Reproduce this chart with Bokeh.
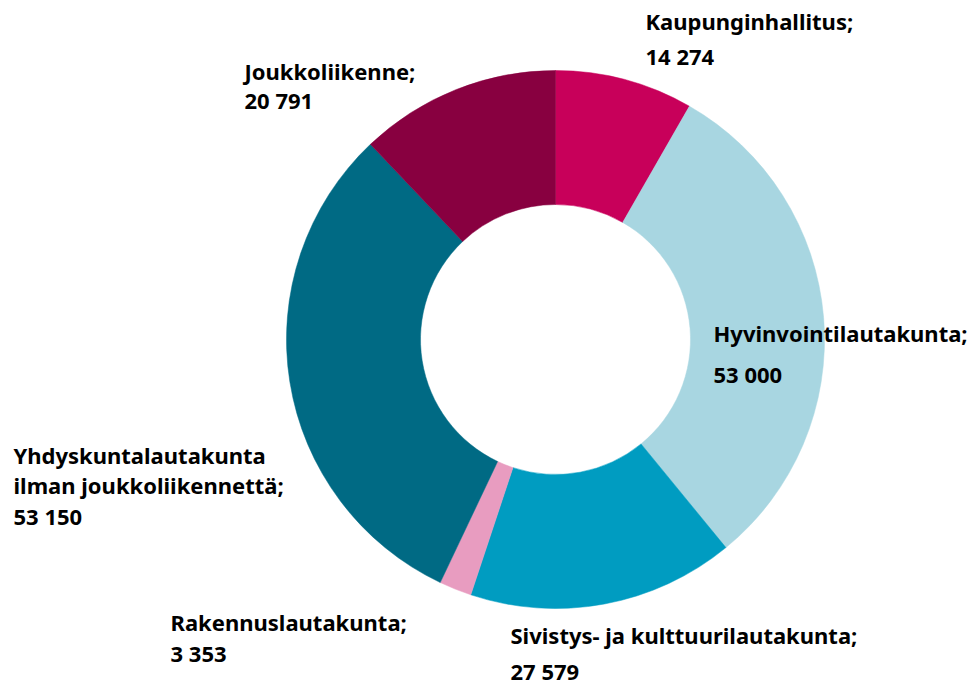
import numpy as np
from bokeh.plotting import figure
from bokeh.models import Range1d, ColumnDataSource
from bokeh.core.properties import value
from bokeh.embed import file_html
from bokeh.resources import INLINE

# ---- data ----
categories = ["Kaupunginhallitus", "Hyvinvointilautakunta", "Sivistys- ja kulttuurilautakunta",
              "Rakennuslautakunta", "Yhdyskuntalautakunta\nilman joukkoliikennettä", "Joukkoliikenne"]
values = [14274, 53000, 27579, 3353, 53150, 20791]
colors = ["#C8005A", "#A8D6E1", "#009CC1", "#E89CC0", "#006A84", "#880040"]

W, H = 974, 686
p = figure(width=W, height=H, output_backend="svg", toolbar_location=None,
           x_range=Range1d(0, W), y_range=Range1d(0, H), min_border=0)
p.axis.visible = False
p.grid.visible = False
p.outline_line_color = None
p.background_fill_color = "white"
p.border_fill_color = "white"

def ix(x):  # image px -> data
    return x
def iy(y):
    return H - y

vals = np.array(values, dtype=float)
frac = vals / vals.sum()
ends = np.cumsum(frac) * 2 * np.pi
starts = np.concatenate([[0], ends[:-1]])
start_ang = np.pi / 2 - starts
end_ang = np.pi / 2 - ends

src = ColumnDataSource(dict(start=start_ang, end=end_ang, color=colors))
p.annular_wedge(x=ix(555), y=iy(339), inner_radius=135, outer_radius=269,
                start_angle="start", end_angle="end", direction="clock",
                fill_color="color", line_color="color", line_width=0.5, source=src)

def fmt(v):
    return f"{v:,}".replace(",", " ")

# label placement (image px): x, cap-top of first line, line spacing
pos = [(645, 13, 35), (713, 325, 41), (510, 627, 36), (170, 614, 31), (13, 447, 30.5), (244, 63, 29)]
CAP = 7
tx, ty, tt = [], [], []
for name, v, (x, y, dy) in zip(categories, values, pos):
    lines = name.split("\n")
    lines[-1] = lines[-1] + ";"
    lines.append(fmt(v))
    for i, ln in enumerate(lines):
        tx.append(ix(x)); ty.append(iy(y + i * dy + CAP)); tt.append(ln)

p.text(x=tx, y=ty, text=tt, text_font=value("Noto Sans"), text_font_style="bold",
       text_font_size="22px", text_color="#000000", text_baseline="alphabetic", text_align="left")

open("out.html", "w").write(file_html(p, INLINE))
